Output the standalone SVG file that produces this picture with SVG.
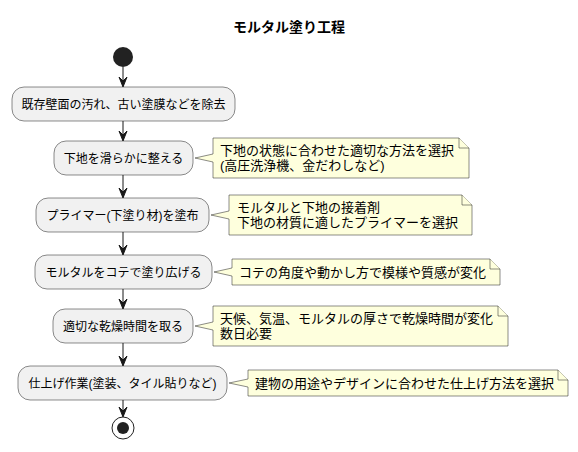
<svg xmlns="http://www.w3.org/2000/svg" width="578" height="452" viewBox="0 0 578 452">
<style>
text{font-family:"Liberation Sans","Noto Sans CJK JP",sans-serif;fill:#000}
.title{font-size:14px;font-weight:bold}
.act rect{fill:#F1F1F1;stroke:#181818;stroke-width:0.5}
.act text{font-size:12px;text-anchor:middle}
.note path{fill:#FEFFDD;stroke:#181818;stroke-width:0.5}
.note text{font-size:13px}
.conn line{stroke:#181818;stroke-width:1}
.conn polygon{fill:#181818;stroke:#181818;stroke-width:1}
</style>
<rect width="578" height="452" fill="#FFFFFF"/>
<text class="title" x="289" y="32" text-anchor="middle">モルタル塗り工程</text>

<g id="start"><circle cx="123" cy="57" r="10" fill="#222222"/></g>

<g id="a1" class="act"><rect x="12" y="87" width="223" height="34" rx="12"/><text x="123.5" y="108.5">既存壁面の汚れ、古い塗膜などを除去</text></g>
<g id="a2" class="act"><rect x="54" y="141" width="139" height="34" rx="12"/><text x="123.5" y="162.5">下地を滑らかに整える</text></g>
<g id="a3" class="act"><rect x="36" y="198" width="173" height="34" rx="12"/><text x="122.5" y="219.5">プライマー(下塗り材)を塗布</text></g>
<g id="a4" class="act"><rect x="35" y="255" width="177" height="34" rx="12"/><text x="123.5" y="276.5">モルタルをコテで塗り広げる</text></g>
<g id="a5" class="act"><rect x="53" y="309" width="140" height="34" rx="12"/><text x="123" y="330.5">適切な乾燥時間を取る</text></g>
<g id="a6" class="act"><rect x="18" y="366" width="209" height="34" rx="12"/><text x="122.5" y="387.5">仕上げ作業(塗装、タイル貼りなど)</text></g>

<g id="end"><circle cx="123" cy="428" r="11" fill="none" stroke="#222222" stroke-width="1"/><circle cx="123" cy="428" r="6" fill="#222222"/></g>

<g id="n1" class="note">
<path d="M213,138 L459,138 L469,148 L469,178 L213,178 L213,162 L195,158 L213,154 Z"/>
<path d="M459,138 L459,148 L469,148" fill="none"/>
<text x="220" y="155">下地の状態に合わせた適切な方法を選択</text>
<text x="220" y="170">(高圧洗浄機、金だわしなど)</text>
</g>
<g id="n2" class="note">
<path d="M229,195 L462,195 L472,205 L472,235 L229,235 L229,219 L211,215 L229,211 Z"/>
<path d="M462,195 L462,205 L472,205" fill="none"/>
<text x="237" y="211.5">モルタルと下地の接着剤</text>
<text x="237" y="226.5">下地の材質に適したプライマーを選択</text>
</g>
<g id="n3" class="note">
<path d="M232,259 L490,259 L500,269 L500,285 L232,285 L232,276 L214,272 L232,268 Z"/>
<path d="M490,259 L490,269 L500,269" fill="none"/>
<text x="239" y="276.5">コテの角度や動かし方で模様や質感が変化</text>
</g>
<g id="n4" class="note">
<path d="M213,306 L498,306 L508,316 L508,346 L213,346 L213,330 L195,326 L213,322 Z"/>
<path d="M498,306 L498,316 L508,316" fill="none"/>
<text x="220" y="322.5">天候、気温、モルタルの厚さで乾燥時間が変化</text>
<text x="220" y="337.5">数日必要</text>
</g>
<g id="n5" class="note">
<path d="M248,370 L558,370 L568,380 L568,396 L248,396 L248,387 L229,383 L248,379 Z"/>
<path d="M558,370 L558,380 L568,380" fill="none"/>
<text x="255" y="387.5">建物の用途やデザインに合わせた仕上げ方法を選択</text>
</g>

<g id="connectors" class="conn">
<line x1="123" y1="67" x2="123" y2="86"/><polygon points="119,77 123,87 127,77 123,81"/>
<line x1="123" y1="121" x2="123" y2="140"/><polygon points="119,131 123,141 127,131 123,135"/>
<line x1="123" y1="175" x2="123" y2="197"/><polygon points="119,188 123,198 127,188 123,192"/>
<line x1="123" y1="232" x2="123" y2="254"/><polygon points="119,245 123,255 127,245 123,249"/>
<line x1="123" y1="289" x2="123" y2="308"/><polygon points="119,299 123,309 127,299 123,303"/>
<line x1="123" y1="343" x2="123" y2="365"/><polygon points="119,356 123,366 127,356 123,360"/>
<line x1="123" y1="400" x2="123" y2="416"/><polygon points="119,407 123,417 127,407 123,411"/>
</g>
</svg>
